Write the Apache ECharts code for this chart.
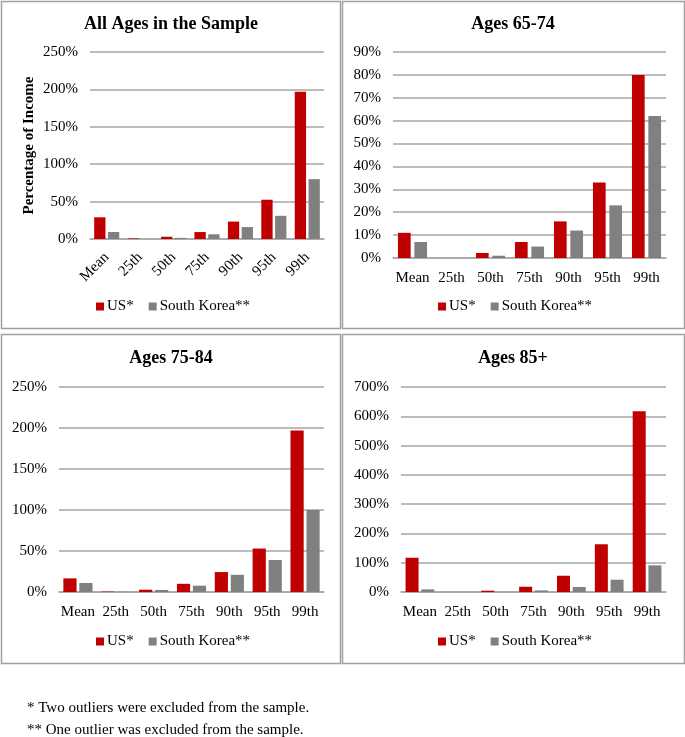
<!DOCTYPE html>
<html>
<head>
<meta charset="utf-8">
<script src="https://cdn.jsdelivr.net/npm/echarts@6/dist/echarts.min.js"></script>
<style>
html,body{margin:0;padding:0;background:#fff;}
#c{width:685px;height:737px;}
</style>
</head>
<body>
<div id="c"></div>
<script>
const categories = ['Mean', '25th', '50th', '75th', '90th', '95th', '99th'];
const seriesNames = ['US*', 'South Korea**'];
const panelTitles = ['All Ages in the Sample', 'Ages 65-74', 'Ages 75-84', 'Ages 85+'];
const footnotes = ['* Two outliers were excluded from the sample.', '** One outlier was excluded from the sample.'];

// values in percent
const allUS = [29, 0.8, 3, 9.3, 23.3, 52.5, 197];
const allKR = [9.4, 0, 1.5, 6.3, 16, 31, 80];
const a6574US = [11, 0, 2.2, 7, 16, 33, 80];
const a6574KR = [7, 0, 1, 5, 12, 23, 62];
const a7584US = [16.6, 0.5, 2.8, 10, 24.3, 53, 197];
const a7584KR = [11, 0.3, 2.5, 7.7, 21, 39, 100];
const a85US = [117, 0, 4.5, 18, 55.5, 163, 617];
const a85KR = [9, 0, 0, 5.5, 17, 42, 91];

const yMax = [250, 90, 250, 700];
const yStep = [50, 10, 50, 100];

const FONT = '"Liberation Serif", "Times New Roman", serif';
const RED = '#C00000';
const GREY = '#808080';
const GRID_C = '#A6A6A6';

const grids = [
  {left: 90, right: 361, top: 52, bottom: 498},
  {left: 393, right: 19, top: 52, bottom: 479},
  {left: 59, right: 361, top: 387, bottom: 145},
  {left: 401, right: 19, top: 387, bottom: 145}
];
const barW = [11.3, 12.7, 13.2, 13];
const barG = ['22%', '29%', '21%', '21%'];
const data = [[allUS, allKR], [a6574US, a6574KR], [a7584US, a7584KR], [a85US, a85KR]];

const xAxes = [], yAxes = [], series = [];
for (let i = 0; i < 4; i++) {
  xAxes.push({
    type: 'category', gridIndex: i, data: categories,
    axisTick: {show: false},
    axisLine: {lineStyle: {color: GRID_C, width: 1.5}},
    axisLabel: {
      fontFamily: FONT, fontSize: 15, color: '#000',
      interval: 0, margin: i === 0 ? 16 : 13,
      rotate: i === 0 ? 45 : 0
    }
  });
  yAxes.push({
    type: 'value', gridIndex: i, min: 0, max: yMax[i], interval: yStep[i],
    axisLine: {show: false}, axisTick: {show: false},
    splitLine: {lineStyle: {color: GRID_C, width: 1.5}},
    axisLabel: {fontFamily: FONT, fontSize: 15, color: '#000', margin: 12, formatter: '{value}%'},
    name: i === 0 ? 'Percentage of Income' : '',
    nameLocation: 'middle', nameRotate: 90, nameGap: 53,
    nameTextStyle: {fontFamily: FONT, fontSize: 15, fontWeight: 'bold', color: '#000'}
  });
  for (let s = 0; s < 2; s++) {
    series.push({
      type: 'bar', name: seriesNames[s], xAxisIndex: i, yAxisIndex: i,
      data: data[i][s], barWidth: barW[i], barGap: barG[i],
      itemStyle: {color: s === 0 ? RED : GREY},
      animation: false
    });
  }
}

const legendPos = [[96, 299], [438, 299], [96, 634], [438, 634]];
const legends = legendPos.map(p => ({
  data: seriesNames, left: p[0], top: p[1], icon: 'rect',
  itemWidth: 8, itemHeight: 8, itemGap: 15, padding: 0,
  textStyle: {fontFamily: FONT, fontSize: 15, color: '#000', padding: [0, 0, 0, -2]}
}));

const titleCenters = [[171, 24], [513, 24], [171, 358], [513, 358]];
const graphics = [];
const boxes = [[1, 1, 339, 327], [342, 1, 342, 327], [1, 334, 339, 329], [342, 334, 342, 329]];
boxes.forEach(b => graphics.push({
  type: 'rect', shape: {x: b[0] + 0.5, y: b[1] + 0.5, width: b[2], height: b[3]},
  style: {fill: 'none', stroke: '#A0A0A0', lineWidth: 1.5}, silent: true
}));
titleCenters.forEach((c, i) => graphics.push({
  type: 'text', x: c[0], y: c[1],
  style: {text: panelTitles[i], fontFamily: FONT, fontSize: 18, fontWeight: 'bold', fill: '#000',
    align: 'center', verticalAlign: 'middle'}
}));
footnotes.forEach((t, i) => graphics.push({
  type: 'text', x: 27, y: 708 + i * 22,
  style: {text: t, fontFamily: FONT, fontSize: 15, fill: '#000', align: 'left', verticalAlign: 'middle'}
}));

const chart = echarts.init(document.getElementById('c'), null, {renderer: 'canvas'});
chart.setOption({
  animation: false,
  backgroundColor: '#fff',
  grid: grids.map(g => Object.assign({outerBoundsMode: 'none', containLabel: false}, g)),
  xAxis: xAxes,
  yAxis: yAxes,
  legend: legends,
  series: series,
  graphic: graphics
});
</script>
</body>
</html>
